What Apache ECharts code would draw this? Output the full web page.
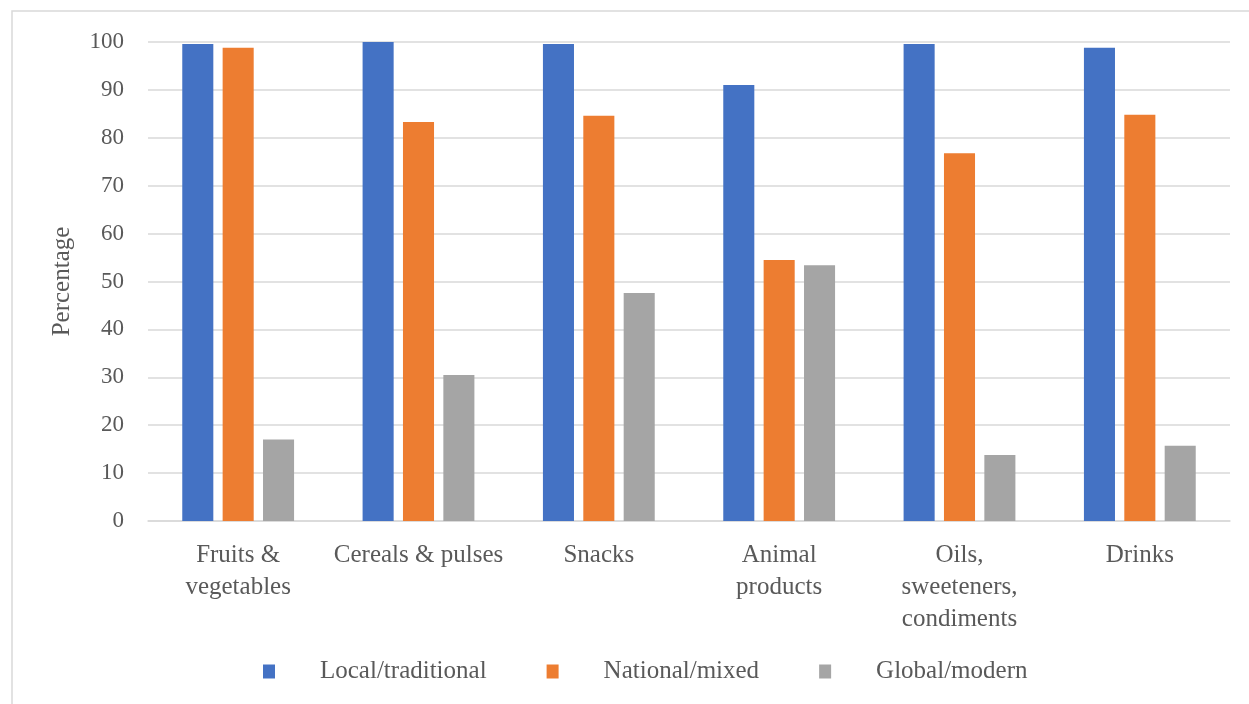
<!DOCTYPE html>
<html>
<head>
<meta charset="utf-8">
<script src="https://cdn.jsdelivr.net/npm/echarts@6/dist/echarts.min.js"></script>
<style>
  html, body { margin: 0; padding: 0; background: #fff; }
  #main { width: 1249px; height: 704px; }
</style>
</head>
<body>
<div id="main"></div>
<script>
  // food categories on the x axis
  var categories = ['Fruits &\nvegetables', 'Cereals & pulses', 'Snacks', 'Animal\nproducts', 'Oils,\nsweeteners,\ncondiments', 'Drinks'];
  var seriesNames = ['Local/traditional', 'National/mixed', 'Global/modern'];
  var localData = [99.6, 100, 99.6, 91.0, 99.6, 98.8];
  var nationalData = [98.8, 83.3, 84.6, 54.5, 76.8, 84.8];
  var globalData = [17.0, 30.5, 47.6, 53.4, 13.8, 15.7];
  var colors = ['#4472c4', '#ed7d31', '#a5a5a5'];

  var font = "'Liberation Serif', 'DejaVu Serif', serif";
  var chart = echarts.init(document.getElementById('main'));

  function bar(name, data, color) {
    return {
      name: name,
      type: 'bar',
      data: data,
      barGap: '30%',
      barCategoryGap: '38%',
      itemStyle: { color: color }
    };
  }

  chart.setOption({
    animation: false,
    textStyle: { fontFamily: font },
    graphic: [{
      type: 'rect',
      shape: { x: 12, y: 11, width: 1250, height: 720 },
      style: { fill: 'none', stroke: '#d9d9d9', lineWidth: 1.5 },
      silent: true
    }],
    grid: { left: 148, right: 19, top: 42, bottom: 183 },
    legend: {
      bottom: 15,
      left: 258,
      itemWidth: 12,
      itemHeight: 14,
      itemGap: 60,
      icon: 'rect',
      textStyle: { fontFamily: font, fontSize: 25, color: '#595959', padding: [0, 0, 0, 40] },
      data: seriesNames
    },
    xAxis: {
      type: 'category',
      data: categories,
      axisLine: { lineStyle: { color: '#d9d9d9', width: 1.5 } },
      axisTick: { show: false },
      axisLabel: { fontFamily: font, fontSize: 25, color: '#595959', lineHeight: 32, margin: 18, interval: 0 }
    },
    yAxis: {
      type: 'value',
      min: 0,
      max: 100,
      interval: 10,
      name: 'Percentage',
      nameLocation: 'middle',
      nameGap: 73,
      nameTextStyle: { fontFamily: font, fontSize: 25, color: '#595959' },
      axisLine: { show: false },
      axisTick: { show: false },
      axisLabel: { fontFamily: font, fontSize: 23, color: '#595959', margin: 24 },
      splitLine: { lineStyle: { color: '#d9d9d9', width: 1.5 } }
    },
    series: [
      bar(seriesNames[0], localData, colors[0]),
      bar(seriesNames[1], nationalData, colors[1]),
      bar(seriesNames[2], globalData, colors[2])
    ]
  });
</script>
</body>
</html>
